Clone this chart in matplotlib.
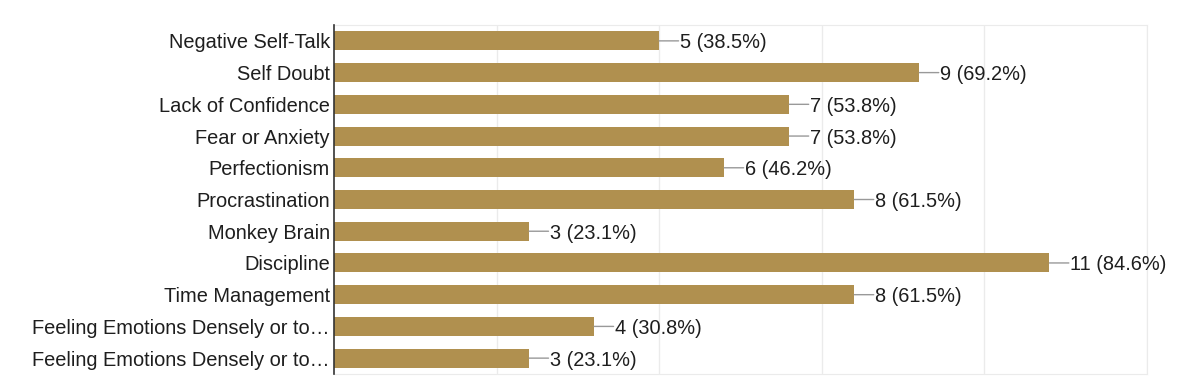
import matplotlib.pyplot as plt

plt.rcParams['font.family'] = ['Liberation Sans', 'DejaVu Sans']

labels = ['Negative Self-Talk', 'Self Doubt', 'Lack of Confidence', 'Fear or Anxiety',
          'Perfectionism', 'Procrastination', 'Monkey Brain', 'Discipline',
          'Time Management', 'Feeling Emotions Densely or to\u2026',
          'Feeling Emotions Densely or to\u2026']
counts = [5, 9, 7, 7, 6, 8, 3, 11, 8, 4, 3]
percents = [38.5, 69.2, 53.8, 53.8, 46.2, 61.5, 23.1, 84.6, 61.5, 30.8, 23.1]

fig = plt.figure(figsize=(12, 3.83), dpi=100)
ax = fig.add_axes([0.2783, 0.0235, 0.6775, 0.9112])

y = list(range(len(labels)))
ax.barh(y, counts, height=0.6, color='#b0904f', zorder=2)

for yi, c, p in zip(y, counts, percents):
    # leader line
    ax.annotate('', xy=(c, yi), xytext=(14, 0), textcoords='offset points',
                arrowprops=dict(arrowstyle='-', color='#999999', lw=1,
                                shrinkA=0, shrinkB=0))
    ax.annotate(f'{c} ({p}%)', xy=(c, yi), xytext=(14.8, 0), textcoords='offset points',
                va='center_baseline', ha='left', fontsize=14.4, color='#1e1e1e')

ax.set_xlim(0, 12.5)
ax.set_ylim(len(labels) - 0.5, -0.5)
ax.set_xticks([2.5, 5, 7.5, 10, 12.5])
ax.set_xticklabels([])
ax.set_yticks(y)
ax.set_yticklabels(labels, fontsize=14.4, color='#1e1e1e', va='center_baseline')
ax.tick_params(axis='both', length=0, pad=3)
ax.grid(axis='x', color='#ebebeb', lw=1, zorder=0)

for s in ['top', 'bottom', 'right']:
    ax.spines[s].set_color('#ebebeb')
ax.spines['left'].set_color('#333333')
ax.spines['left'].set_linewidth(1.2)
ax.spines['left'].set_zorder(3)

fig.savefig('out.png', dpi=100)
